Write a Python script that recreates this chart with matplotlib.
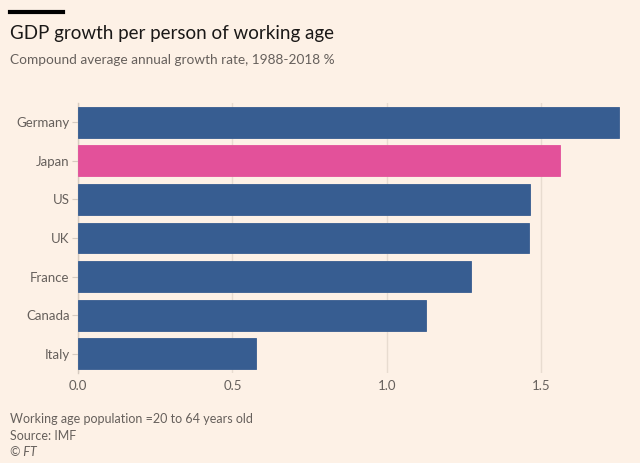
import matplotlib.pyplot as plt

plt.rcParams['font.family'] = ['Lato', 'DejaVu Sans']

countries = ['Germany', 'Japan', 'US', 'UK', 'France', 'Canada', 'Italy']
growth = [1.75, 1.56, 1.464, 1.458, 1.272, 1.126, 0.577]
colours = ['#375d91', '#e3519a', '#375d91', '#375d91', '#375d91', '#375d91', '#375d91']
xticks = [0.0, 0.5, 1.0, 1.5]

bg = '#fdf1e6'
grey = '#66605c'

fig = plt.figure(figsize=(6.4, 4.63), dpi=100, facecolor=bg)
ax = fig.add_axes([78/640, 90/463, 550/640, 270/463], facecolor=bg)

ypos = list(range(len(countries)))[::-1]
ax.barh(ypos, growth, height=0.8, color=colours, edgecolor=colours,
        linewidth=0.6, zorder=3)

ax.set_xlim(0, 1.78)
ax.set_ylim(-0.5, 6.5)
ax.set_yticks(ypos)
ax.set_yticklabels(countries)
ax.set_xticks(xticks)
ax.set_xticklabels(['%.1f' % v for v in xticks])

for s in ['top', 'right', 'bottom']:
    ax.spines[s].set_visible(False)
ax.spines['left'].set_color('#d6cbc0')
ax.spines['left'].set_linewidth(1)

ax.grid(axis='x', color='#e8dcd0', linewidth=1, zorder=0)
ax.tick_params(axis='y', length=4, width=0.8, color='#d6cbc0', labelsize=9.5,
               labelcolor=grey, pad=2)
ax.tick_params(axis='x', length=0, labelsize=9.5, labelcolor=grey, pad=5)

# header
fig.add_artist(plt.Line2D([10/640, 63/640], [1 - 11.5/463, 1 - 11.5/463],
                          color='black', linewidth=3))
fig.text(10/640, 1 - 33/463, 'GDP growth per person of working age', fontsize=13.5,
         color='#1a1817', va='center')
fig.text(10/640, 1 - 60/463, 'Compound average annual growth rate, 1988-2018 %',
         fontsize=9.8, color=grey, va='center')

# footer
fig.text(10/640, 1 - 419/463, 'Working age population =20 to 64 years old',
         fontsize=9, color=grey, va='center')
fig.text(10/640, 1 - 436/463, 'Source: IMF', fontsize=9, color=grey, va='center')
fig.text(10/640, 1 - 452/463, '© FT', fontsize=9, color=grey, va='center',
         style='italic')

fig.savefig('out.png', dpi=100, facecolor=bg)
